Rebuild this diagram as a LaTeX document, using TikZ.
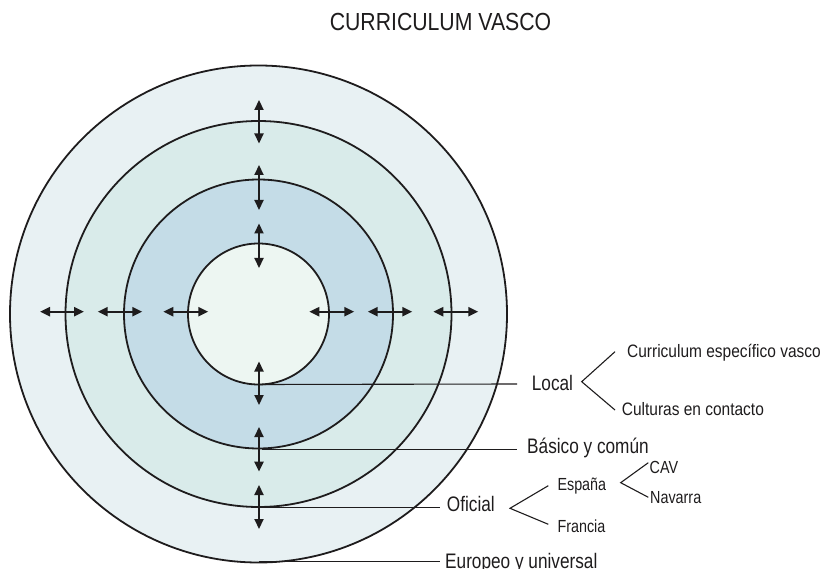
\documentclass[tikz,border=0pt]{standalone}
\usepackage{fontspec}
\setmainfont{Liberation Sans}[FakeStretch=0.82]
\newfontfamily\titlefont{Liberation Sans}[FakeStretch=0.86]
\usetikzlibrary{arrows.meta}
\definecolor{ringA}{RGB}{232,241,243}
\definecolor{ringB}{RGB}{217,235,234}
\definecolor{ringC}{RGB}{196,220,231}
\definecolor{ringD}{RGB}{237,246,242}
\definecolor{inkc}{RGB}{30,28,29}
\begin{document}
\begin{tikzpicture}[x=1pt,y=-1pt,
  ring/.style={circle, draw=inkc, line width=1.8pt, inner sep=0pt, outer sep=0pt},
  dbl/.style={draw=inkc, line width=2.2pt, {Triangle[length=10pt,width=9pt]}-{Triangle[length=10pt,width=9pt]}},
  lead/.style={draw=inkc, line width=1.1pt},
  titlef/.style={font=\titlefont\fontsize{24.7}{28}\selectfont, text=inkc, inner sep=0pt, anchor=base},
  big/.style={font=\fontsize{21}{24}\selectfont, text=inkc, inner sep=0pt, anchor=base west},
  small/.style={font=\fontsize{17.5}{20}\selectfont, text=inkc, inner sep=0pt, anchor=base west},
  smallw/.style={font=\titlefont\fontsize{18}{21}\selectfont, text=inkc, inner sep=0pt, anchor=base west}]
\useasboundingbox (0,0) rectangle (822,569);
\coordinate (c) at (258.5,314);
\node[ring, fill=ringA, minimum size=497pt] (outer) at (c) {};
\node[ring, fill=ringB, minimum size=386pt] (second) at (c) {};
\node[ring, fill=ringC, minimum size=269pt] (third) at (c) {};
\node[ring, fill=ringD, minimum size=141pt] (inner) at (c) {};
% title
\node[titlef] (title) at (440.5,31) {CURRICULUM VASCO};
% labels
\node[big] (local) at (531.7,390) {Local};
\node[smallw] (cev) at (627,357) {Curriculum específico vasco};
\node[smallw] (cec) at (621.7,415) {Culturas en contacto};
\node[big] (basico) at (527,453.3) {Básico y común};
\node[big] (oficial) at (446.7,511.7) {Oficial};
\node[small] (espana) at (557.3,490) {España};
\node[small] (francia) at (557.3,532.7) {Francia};
\node[small] (cav) at (649.5,473.3) {CAV};
\node[small] (navarra) at (650,503.3) {Navarra};
\node[big] (europeo) at (445,568.5) {Europeo y universal};
% leader lines
\coordinate (localend) at (517,384);
\coordinate (basicostart) at (262,449.3);
\coordinate (basicoend) at (516.7,449.3);
\coordinate (oficialstart) at (264,507.5);
\coordinate (oficialend) at (440,507.5);
\coordinate (europeostart) at (259,561.7);
\coordinate (europeoend) at (440,561.7);
\draw[lead] (inner.south) -- (localend);
\draw[lead] (basicostart) -- (basicoend);
\draw[lead] (oficialstart) -- (oficialend);
\draw[lead] (europeostart) -- (europeoend);
% branches
\coordinate (lv) at (581.7,381.7);
\coordinate (lu) at (615,351.7);
\coordinate (ld) at (615,410);
\draw[lead] (lu) -- (lv) -- (ld);
\coordinate (ov) at (510,508.3);
\coordinate (ou) at (548.3,485.7);
\coordinate (od) at (548.3,524.3);
\draw[lead] (ou) -- (ov) -- (od);
\coordinate (ev) at (620.7,482.7);
\coordinate (eu) at (648.3,462.7);
\coordinate (ed) at (648.3,497.3);
\draw[lead] (eu) -- (ev) -- (ed);
% arrows
\foreach \a/\b in {40/84, 97.7/142.3, 163.3/208.3, 309.3/354.3, 367.7/412.3, 433.3/478.3}
  \draw[dbl] (\a,311.7) -- (\b,311.7);
\foreach \a/\b in {100/143.5, 165/210, 223.5/268, 361.5/405, 427/471.6, 485/529}
  \draw[dbl] (259,\a) -- (259,\b);
\end{tikzpicture}
\end{document}
